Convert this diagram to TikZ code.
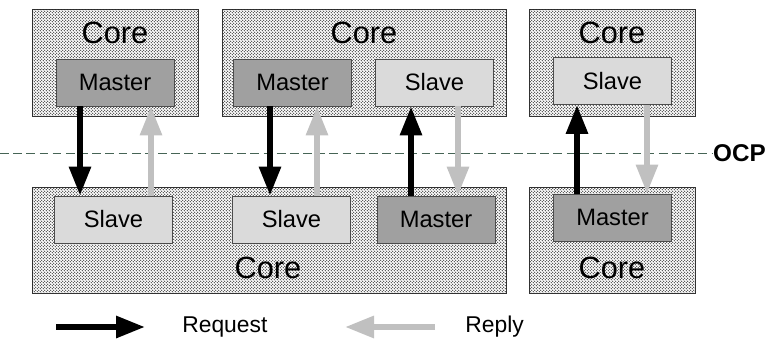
\documentclass[tikz,border=0pt]{standalone}
\usepackage{fontspec}
\setmainfont{Liberation Sans}
\usepackage{xcolor}
\definecolor{ocpmaster}{RGB}{160,160,160}
\definecolor{ocpslave}{RGB}{218,218,218}
\definecolor{ocpreply}{RGB}{192,192,192}
\definecolor{ocpline}{RGB}{70,100,85}
\usetikzlibrary{arrows.meta,positioning,patterns}
\pgfdeclarepatternformonly{coredots}{\pgfpointorigin}{\pgfqpoint{1.7pt}{1.7pt}}{\pgfqpoint{1.7pt}{1.7pt}}{%
  \pgfpathcircle{\pgfqpoint{0.425pt}{0.425pt}}{0.4pt}
  \pgfpathcircle{\pgfqpoint{1.275pt}{1.275pt}}{0.4pt}
  \pgfusepath{fill}}
\tikzset{
  corebox/.style={draw=black!80,line width=0.5pt,fill=white,postaction={pattern=coredots,pattern color=black!85},inner sep=0pt},
  masterbox/.style={draw=black!70,line width=0.5pt,fill=ocpmaster,minimum width=2.36cm,minimum height=0.94cm,font=\fontsize{13.5}{15}\selectfont},
  slavebox/.style={masterbox,fill=ocpslave},
  corelabel/.style={font=\fontsize{17.5}{19}\selectfont,inner sep=0pt},
  req/.style={line width=0.12cm,-{Triangle[length=0.58cm,width=0.42cm]}},
  rep/.style={req,ocpreply}
}

\begin{document}
\begin{tikzpicture}[x=0.02cm,y=-0.02cm]
  \useasboundingbox (0,0) rectangle (766,341);
  % cores
  \node[corebox,minimum width=3.32cm,minimum height=2.14cm] (c1) at (115,62.5) {};
  \node[corebox,minimum width=5.68cm,minimum height=2.14cm] (c2) at (364,62.5) {};
  \node[corebox,minimum width=3.32cm,minimum height=2.14cm] (c3) at (612,62.5) {};
  \node[corebox,minimum width=9.48cm,minimum height=2.12cm] (c4) at (269,240) {};
  \node[corebox,minimum width=3.32cm,minimum height=2.12cm] (c5) at (612,240) {};
  \node[corelabel] (l1) at (115,33) {Core};
  \node[corelabel] (l2) at (364,33) {Core};
  \node[corelabel] (l3) at (612,33) {Core};
  \node[corelabel] (l4) at (268,268) {Core};
  \node[corelabel] (l5) at (612,268) {Core};
  % initiators and targets
  \node[masterbox] (m1) at (115,82.5) {Master};
  \node[masterbox] (m2) at (292.5,82.5) {Master};
  \node[slavebox] (s3) at (434.5,82.5) {Slave};
  \node[slavebox] (s4) at (612.5,81) {Slave};
  \node[slavebox] (s1) at (113.5,219.5) {Slave};
  \node[slavebox] (s2) at (291.5,219.5) {Slave};
  \node[masterbox] (m3) at (436,219.5) {Master};
  \node[masterbox] (m4) at (612.5,217.5) {Master};
  % OCP boundary
  \coordinate (o0) at (0,153);
  \node[font=\fontsize{13.8}{15}\bfseries,anchor=west,inner sep=0.5pt] (ocp) at (712,153) {OCP};
  \draw[ocpline,dashed,dash pattern=on 5pt off 2.5pt,line width=0.5pt] (o0) -- (ocp.west);
  % requests and replies
  \draw[req] ([xshift=-0.7cm]m1.south) -- ([xshift=-0.7cm]m1.south |- s1.north);
  \draw[rep] ([xshift=0.75cm]s1.north) -- ([xshift=0.75cm]s1.north |- m1.south);
  \draw[req] ([xshift=-0.45cm]m2.south) -- ([xshift=-0.45cm]m2.south |- s2.north);
  \draw[rep] ([xshift=0.51cm]s2.north) -- ([xshift=0.51cm]s2.north |- m2.south);
  \draw[req] ([xshift=-0.5cm]m3.north) -- ([xshift=-0.5cm]m3.north |- s3.south);
  \draw[rep] ([xshift=0.47cm]s3.south) -- ([xshift=0.47cm]s3.south |- m3.north);
  \draw[req] ([xshift=-0.71cm]m4.north) -- ([xshift=-0.71cm]m4.north |- s4.south);
  \draw[rep] ([xshift=0.69cm]s4.south) -- ([xshift=0.69cm]s4.south |- m4.north);
  % legend
  \coordinate (rq0) at (56,327);
  \coordinate (rq1) at (145,327);
  \coordinate (rp0) at (435,327);
  \coordinate (rp1) at (345,327);
  \draw[req] (rq0) -- (rq1);
  \draw[rep] (rp0) -- (rp1);
  \node[font=\fontsize{13}{15}\selectfont,anchor=west,inner sep=0pt] (lreq) at (182,327) {Request};
  \node[font=\fontsize{13}{15}\selectfont,anchor=west,inner sep=0pt] (lrep) at (465,327) {Reply};
\end{tikzpicture}
\end{document}
